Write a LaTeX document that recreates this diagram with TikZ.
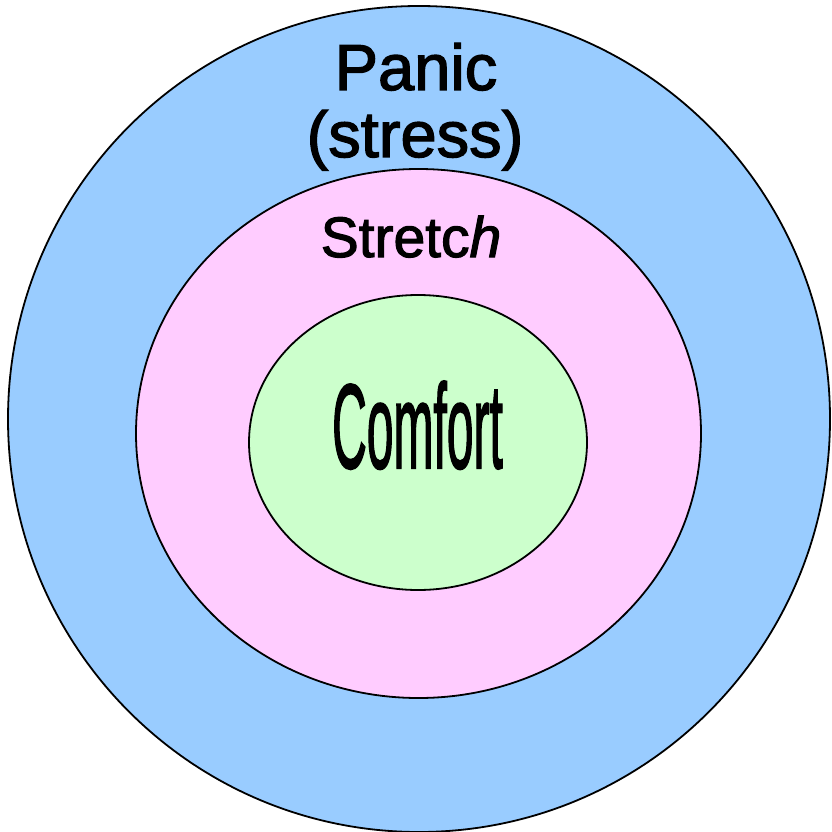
\documentclass[tikz,border=0pt]{standalone}
\usepackage{fontspec}
\setmainfont{Liberation Sans}
\newfontfamily\heavy[FakeBold=2]{Liberation Sans}
\begin{document}
\begin{tikzpicture}[x=1pt,y=-1pt,
  zone/.style={draw=black,line width=1.8pt},
  lbl/.style={anchor=base,inner sep=0pt,text=black,font=\heavy}]
\useasboundingbox (0,0) rectangle (832,832);
\fill[white] (0,0) rectangle (832,832);
\draw[zone,fill={rgb,255:red,153;green,204;blue,255}] (419,419) ellipse [x radius=411,y radius=413];
\draw[zone,fill={rgb,255:red,255;green,204;blue,255}] (418.5,433.5) ellipse [x radius=282.5,y radius=264.5];
\draw[zone,fill={rgb,255:red,204;green,255;blue,204}] (418,442.5) ellipse [x radius=169,y radius=147.5];
\node[lbl] (panic) at (416,90) {\fontsize{65pt}{70pt}\selectfont Panic};
\node[lbl] (stress) at (415,157) {\fontsize{65pt}{70pt}\selectfont (stress)};
\node[lbl] (stretch) at (411,257) {\fontsize{57pt}{60pt}\selectfont Stretc\textit{h}};
\node[lbl] (comfort) at (417.5,468) {\scalebox{0.4}[1]{\fontsize{120pt}{124pt}\selectfont Comfort}};
\end{tikzpicture}
\end{document}
